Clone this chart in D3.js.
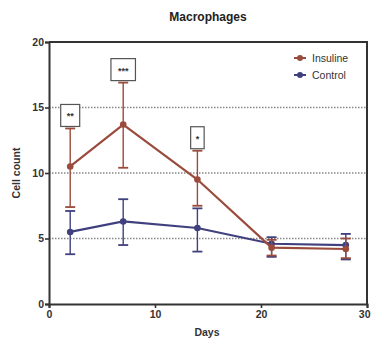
<!DOCTYPE html>
<html>
<head>
<meta charset="utf-8">
<script src="https://cdn.jsdelivr.net/npm/d3@7"></script>
<style>
  html, body { margin: 0; padding: 0; background: #fff; }
  svg { display: block; font-family: "Liberation Sans", Arial, sans-serif; }
</style>
</head>
<body>
<svg id="chart" width="371" height="344"></svg>
<script>
// Time points (days)
const days = [2, 7, 14, 21, 28];

// Insuline group: mean and error bar bounds
const insulineMean = [10.5, 13.7, 9.5, 4.3, 4.2];
const insulineUpper = [13.4, 16.9, 11.7, 4.9, 5.0];
const insulineLower = [7.4, 10.4, 7.5, 3.7, 3.5];

// Control group: mean and error bar bounds
const controlMean = [5.5, 6.3, 5.8, 4.6, 4.5];
const controlUpper = [7.1, 8.0, 7.3, 5.1, 5.35];
const controlLower = [3.8, 4.5, 4.0, 3.6, 3.4];

// Significance marks placed above the insuline error bars
const sigDays = [2, 7, 14];
const sigLabels = ["**", "***", "*"];

const xTicks = [0, 10, 20, 30];
const yTicks = [0, 5, 10, 15, 20];
const gridValues = [5, 10, 15];

const colors = { insuline: "#9a4b3c", control: "#41407e" };

const svg = d3.select("#chart");
const margin = { left: 49, right: 4, top: 42, bottom: 40 };
const W = 371, H = 344;

const x = d3.scaleLinear().domain([0, 30]).range([margin.left, W - margin.right]);
const y = d3.scaleLinear().domain([0, 20]).range([H - margin.bottom, margin.top]);

// Title
svg.append("text")
  .attr("x", 208).attr("y", 21)
  .attr("text-anchor", "middle")
  .attr("font-size", 12).attr("font-weight", "bold")
  .attr("fill", "#222")
  .text("Macrophages");

// Dotted horizontal grid lines
svg.append("g").selectAll("line").data(gridValues).join("line")
  .attr("x1", x(0)).attr("x2", x(30))
  .attr("y1", d => y(d)).attr("y2", d => y(d))
  .attr("stroke", "#888").attr("stroke-width", 1.3)
  .attr("stroke-dasharray", "1.5,1.5");

// Axes
const xAxis = svg.append("g")
  .attr("transform", `translate(0,${y(0)})`)
  .call(d3.axisBottom(x).tickValues(xTicks).tickSize(4).tickPadding(3));
const yAxis = svg.append("g")
  .attr("transform", `translate(${x(0)},0)`)
  .call(d3.axisLeft(y).tickValues(yTicks).tickSize(4).tickPadding(1));
[xAxis, yAxis].forEach(g => {
  g.select(".domain").attr("stroke", "#333").attr("stroke-width", 2);
  g.selectAll(".tick line").attr("stroke", "#333").attr("stroke-width", 1.6);
  g.selectAll(".tick text")
    .attr("font-size", 10.5).attr("font-weight", "bold")
    .attr("fill", "#333")
    .attr("font-family", "\"Liberation Sans\", Arial, sans-serif");
});
// Keep the last x tick label inside the canvas
xAxis.selectAll(".tick text").filter(d => d === 30)
  .attr("text-anchor", "end").attr("dx", 3);

// Frame on top and right
svg.append("path")
  .attr("d", `M${x(0)},${y(20)}H${x(30)}V${y(0)}`)
  .attr("fill", "none").attr("stroke", "#333").attr("stroke-width", 2);

// Axis titles
svg.append("text")
  .attr("x", 207).attr("y", 336)
  .attr("text-anchor", "middle")
  .attr("font-size", 10.5).attr("font-weight", "bold").attr("fill", "#333")
  .text("Days");
svg.append("text")
  .attr("transform", `translate(20,${(y(0) + y(20)) / 2}) rotate(-90)`)
  .attr("text-anchor", "middle")
  .attr("font-size", 10.5).attr("font-weight", "bold").attr("fill", "#333")
  .text("Cell count");

// Draw one series: error bars, connecting line, markers
function drawSeries(mean, upper, lower, color) {
  const rows = days.map((d, i) => ({ d, m: mean[i], u: upper[i], l: lower[i] }));
  const g = svg.append("g");
  const cap = 5;
  g.selectAll("line.err").data(rows).join("line")
    .attr("class", "err")
    .attr("x1", r => x(r.d)).attr("x2", r => x(r.d))
    .attr("y1", r => y(r.u)).attr("y2", r => y(r.l))
    .attr("stroke", color).attr("stroke-width", 1.4);
  g.selectAll("line.capU").data(rows).join("line")
    .attr("class", "capU")
    .attr("x1", r => x(r.d) - cap).attr("x2", r => x(r.d) + cap)
    .attr("y1", r => y(r.u)).attr("y2", r => y(r.u))
    .attr("stroke", color).attr("stroke-width", 1.8);
  g.selectAll("line.capL").data(rows).join("line")
    .attr("class", "capL")
    .attr("x1", r => x(r.d) - cap).attr("x2", r => x(r.d) + cap)
    .attr("y1", r => y(r.l)).attr("y2", r => y(r.l))
    .attr("stroke", color).attr("stroke-width", 1.8);
  g.append("path")
    .datum(rows)
    .attr("fill", "none").attr("stroke", color).attr("stroke-width", 2.2)
    .attr("d", d3.line().x(r => x(r.d)).y(r => y(r.m)));
  g.selectAll("circle").data(rows).join("circle")
    .attr("cx", r => x(r.d)).attr("cy", r => y(r.m)).attr("r", 3.3)
    .attr("fill", color);
}

drawSeries(controlMean, controlUpper, controlLower, colors.control);
drawSeries(insulineMean, insulineUpper, insulineLower, colors.insuline);

// Significance boxes
const sigG = svg.append("g");
sigDays.forEach((d, i) => {
  const idx = days.indexOf(d);
  const top = y(insulineUpper[idx]);
  const label = sigLabels[i];
  const w = 8 + label.length * 5.5;
  const h = 22;
  const cx = x(d);
  sigG.append("rect")
    .attr("x", cx - w / 2).attr("y", top - h - 2)
    .attr("width", w).attr("height", h)
    .attr("fill", "#fff").attr("stroke", "#555").attr("stroke-width", 1.2);
  sigG.append("text")
    .attr("x", cx).attr("y", top - h / 2 + 2)
    .attr("text-anchor", "middle")
    .attr("font-size", 9).attr("font-weight", "bold").attr("fill", "#333")
    .text(label);
});

// Legend
const legend = [
  { name: "Insuline", color: colors.insuline },
  { name: "Control", color: colors.control }
];
const lg = svg.append("g").attr("transform", "translate(294,58)");
legend.forEach((e, i) => {
  const yy = i * 17;
  lg.append("line").attr("x1", 0).attr("x2", 12).attr("y1", yy).attr("y2", yy)
    .attr("stroke", e.color).attr("stroke-width", 2);
  lg.append("circle").attr("cx", 6).attr("cy", yy).attr("r", 3).attr("fill", e.color);
  lg.append("text").attr("x", 18).attr("y", yy + 4)
    .attr("font-size", 10.5).attr("fill", "#333")
    .text(e.name);
});
</script>
</body>
</html>
